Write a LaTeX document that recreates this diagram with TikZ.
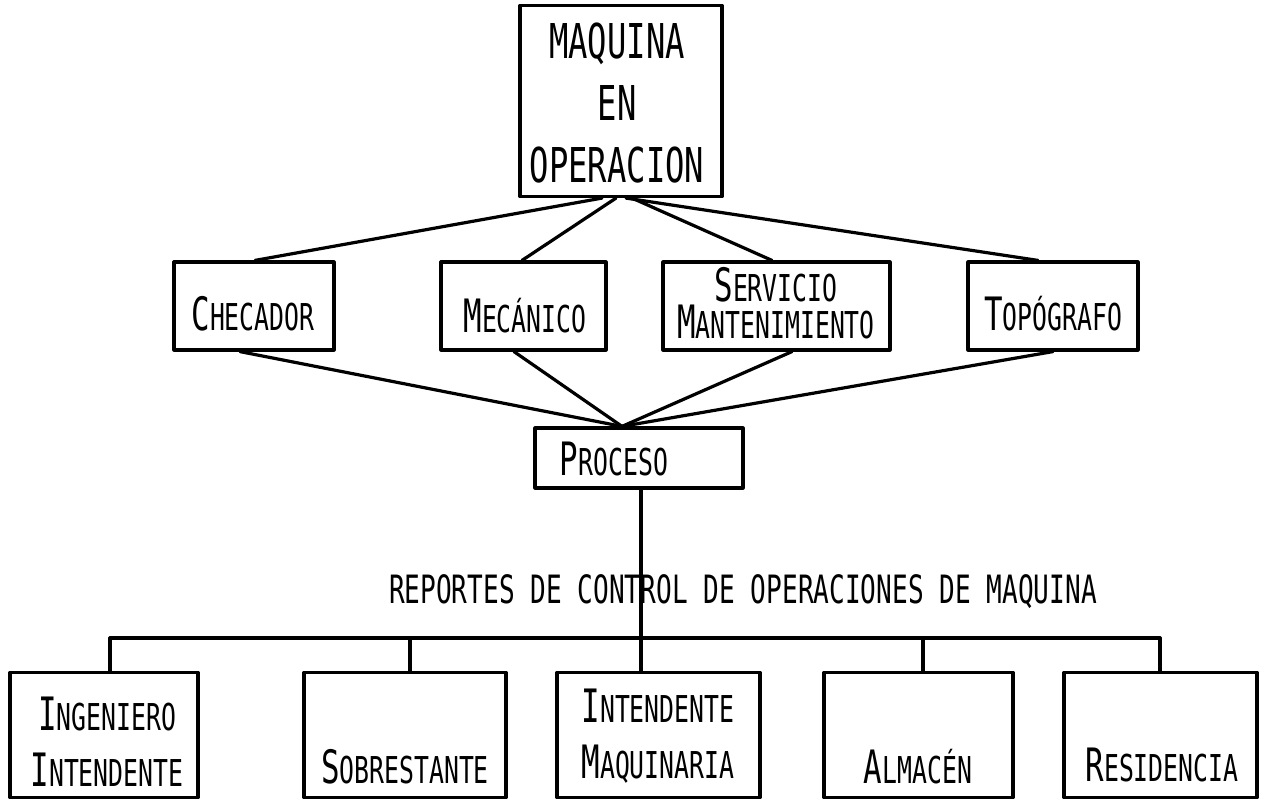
\documentclass[tikz,border=0pt]{standalone}
\usepackage{fontspec}
\usetikzlibrary{calc}
\newfontfamily\letfont[FakeStretch=0.67]{DejaVu Sans Mono}
\newcommand\Ini[1]{{\fontsize{46}{46}\selectfont #1}}
\tikzset{
  boxst/.style={draw=black, line width=3.2pt, rectangle, inner sep=0pt, line join=round},
  bigtxt/.style={font=\letfont\fontsize{48}{62}\selectfont, inner sep=0pt, align=center},
  txt/.style={font=\letfont\fontsize{37}{56}\selectfont, inner sep=0pt, align=center},
  txttwo/.style={font=\letfont\fontsize{37}{37}\selectfont, inner sep=0pt, align=center},
  reptxt/.style={font=\letfont\fontsize{39}{44}\selectfont, inner sep=0pt},
  conn/.style={line width=3.2pt, line cap=round, draw=black}
}
\begin{document}
\begin{tikzpicture}[x=1pt,y=-1pt]
\fill[white] (0,0) rectangle (1267,803);
\useasboundingbox (0,0) rectangle (1267,803);

% top box
\node[boxst, minimum width=202pt, minimum height=191pt] (maq) at (621,101) {};
\node[bigtxt] (maqt) at (617,103) {MAQUINA\\EN\\OPERACION};

% second row
\node[boxst, minimum width=160pt, minimum height=88pt] (chec) at (254,306) {};
\node[boxst, minimum width=165pt, minimum height=88pt] (mec) at (523.5,306) {};
\node[boxst, minimum width=227pt, minimum height=88pt] (serv) at (776.5,306) {};
\node[boxst, minimum width=170pt, minimum height=88pt] (topo) at (1053,306) {};
\node[txt] (chect) at (253,314) {\Ini{C}HECADOR};
\node[txt] (mect) at (525,316) {\Ini{M}ECÁNICO};
\node[txttwo] (servt) at (776,303) {\Ini{S}ERVICIO\\\Ini{M}ANTENIMIENTO};
\node[txt] (topot) at (1053,314) {\Ini{T}OPÓGRAFO};

% proceso
\node[boxst, minimum width=208pt, minimum height=60pt] (proc) at (639,458) {};
\node[txt] (proct) at (614,459) {\Ini{P}ROCESO};

% caption
\node[reptxt] (rep) at (743,592) {REPORTES DE CONTROL DE OPERACIONES DE MAQUINA};

% bottom row
\node[boxst, minimum width=188pt, minimum height=125pt] (ing) at (104,735) {};
\node[boxst, minimum width=202pt, minimum height=125pt] (sob) at (405,735) {};
\node[boxst, minimum width=203pt, minimum height=125pt] (intm) at (658.5,735) {};
\node[boxst, minimum width=189pt, minimum height=125pt] (alm) at (918.5,735) {};
\node[boxst, minimum width=193pt, minimum height=125pt] (res) at (1160.5,735) {};
\node[txt] (ingt) at (107,742) {\Ini{I}NGENIERO\\\Ini{I}NTENDENTE};
\node[txt] (sobt) at (405,767) {\Ini{S}OBRESTANTE};
\node[txt] (intmt) at (658,736) {\Ini{I}NTENDENTE\\\Ini{M}AQUINARIA};
\node[txt] (almt) at (918,767) {\Ini{A}LMACÉN};
\node[txt] (rest) at (1162,765) {\Ini{R}ESIDENCIA};

% connectors top
\draw[conn] ([xshift=-19pt]maq.south) -- ([xshift=1pt]chec.north);
\draw[conn] ([xshift=-5pt]maq.south) -- ([xshift=-1.5pt]mec.north);
\draw[conn] ([xshift=11pt]maq.south) -- ([xshift=-4.5pt]serv.north);
\draw[conn] ([xshift=5pt]maq.south) -- ([xshift=-15pt]topo.north);

% connectors to proceso
\coordinate (ptop) at ([xshift=-17pt]proc.north);
\draw[conn] ([xshift=-14pt]chec.south) -- (ptop);
\draw[conn] ([xshift=-9.5pt]mec.south) -- (ptop);
\draw[conn] ([xshift=15.5pt]serv.south) -- (ptop);
\draw[conn] (topo.south) -- (ptop);

% trunk and bus
\draw[conn] ([xshift=2pt]proc.south) -- ([xshift=-17.5pt]intm.north);
\coordinate (busL) at (110,638);
\coordinate (busR) at (1160,638);
\coordinate (busS) at (410,638);
\coordinate (busA) at (923,638);
\draw[conn] (busL) -- (busR);
\draw[conn] (busL) -- (busL |- ing.north);
\draw[conn] (busS) -- (busS |- sob.north);
\draw[conn] (busA) -- (busA |- alm.north);
\draw[conn] (busR) -- (busR |- res.north);
\end{tikzpicture}
\end{document}
